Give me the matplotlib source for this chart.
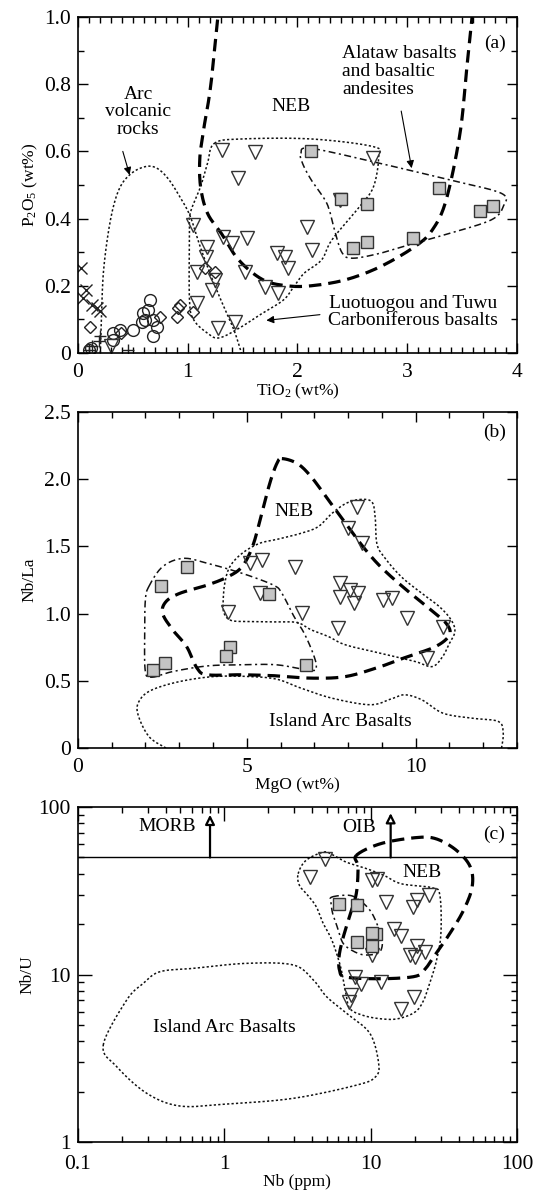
import numpy as np
import matplotlib
matplotlib.use("Agg")
import matplotlib.pyplot as plt
from matplotlib.ticker import MultipleLocator, LogLocator, NullFormatter, FuncFormatter

plt.rcParams["font.family"] = ["Liberation Serif", "DejaVu Serif"]
plt.rcParams["mathtext.fontset"] = "custom"
plt.rcParams["mathtext.rm"] = "Liberation Serif"
plt.rcParams["mathtext.it"] = "Liberation Serif:italic"
plt.rcParams["lines.scale_dashes"] = False

# ---------------- (a) TiO2 vs P2O5 ----------------
a_tri_x = [1.31, 1.614, 1.462, 1.052, 1.174, 1.168, 1.325, 1.402, 1.538, 1.083, 1.25, 1.219,
           1.083, 1.28, 1.432, 1.523, 1.705, 1.826, 1.811, 1.887, 1.917, 2.085, 2.13, 2.687, 2.39, 0.30]
a_tri_y = [0.604, 0.599, 0.52, 0.381, 0.316, 0.287, 0.346, 0.326, 0.341, 0.242, 0.217, 0.188,
           0.148, 0.074, 0.093, 0.242, 0.197, 0.178, 0.297, 0.287, 0.252, 0.376, 0.307, 0.581, 0.455, 0.02]
a_sq_x = [2.126, 2.394, 2.636, 2.504, 2.636, 3.055, 3.291, 3.663, 3.78]
a_sq_y = [0.602, 0.457, 0.444, 0.312, 0.33, 0.342, 0.49, 0.423, 0.438]
a_circ_x = [0.323, 0.384, 0.505, 0.582, 0.597, 0.642, 0.658, 0.612, 0.688, 0.719, 0.688, 0.323, 0.10, 0.12]
a_circ_y = [0.059, 0.068, 0.068, 0.093, 0.118, 0.128, 0.158, 0.098, 0.098, 0.078, 0.049, 0.039, 0.009, 0.015]
a_dia_x = [0.111, 0.90, 0.931, 0.915, 1.052, 1.158, 1.25, 0.749, 0.39]
a_dia_y = [0.078, 0.108, 0.143, 0.133, 0.123, 0.252, 0.242, 0.108, 0.06]
a_cross_x = [0.031, 0.079, 0.047, 0.126, 0.173, 0.205]
a_cross_y = [0.252, 0.188, 0.163, 0.144, 0.134, 0.124]
a_plus_x = [0.205, 0.189, 0.125, 0.10, 0.457]
a_plus_y = [0.05, 0.035, 0.02, 0.01, 0.01]

a_neb = [(1.291, 1.05), (1.213, 0.802), (1.15, 0.673), (1.112, 0.584), (1.118, 0.495), (1.181, 0.416),
         (1.307, 0.356), (1.465, 0.277), (1.685, 0.218), (1.906, 0.2), (2.126, 0.2), (2.441, 0.218),
         (2.756, 0.257), (3.071, 0.317), (3.228, 0.366), (3.354, 0.455), (3.48, 0.653), (3.543, 0.851),
         (3.606, 1.05)]
a_arc = [(0.205, 0.0), (0.215, 0.1), (0.236, 0.25), (0.30, 0.40), (0.38, 0.49), (0.49, 0.535),
         (0.62, 0.555), (0.72, 0.55), (0.82, 0.52), (0.92, 0.47), (1.02, 0.41), (1.10, 0.33),
         (1.20, 0.24), (1.30, 0.16), (1.42, 0.07), (1.49, 0.0)]
a_luo = [(1.244, 0.624), (1.496, 0.637), (2.126, 0.637), (2.693, 0.614), (2.74, 0.584), (2.693, 0.495),
         (2.567, 0.436), (2.315, 0.337), (2.22, 0.277), (2.063, 0.238), (1.969, 0.198), (1.874, 0.158),
         (1.685, 0.119), (1.496, 0.079), (1.291, 0.045), (1.181, 0.059), (1.055, 0.099), (1.017, 0.158),
         (1.017, 0.356), (1.024, 0.416), (1.118, 0.495), (1.181, 0.564)]
a_ala = [(2.031, 0.594), (2.126, 0.609), (2.756, 0.564), (3.386, 0.515), (3.858, 0.475), (3.874, 0.436),
         (3.764, 0.396), (3.386, 0.356), (3.071, 0.327), (2.756, 0.297), (2.504, 0.282), (2.409, 0.297),
         (2.346, 0.356), (2.299, 0.416), (2.252, 0.455), (2.126, 0.515), (2.047, 0.564)]

# ---------------- (b) MgO vs Nb/La ----------------
b_tri_x = [7.76, 8.06, 8.3, 7.76, 8.16, 9.04, 9.29, 9.74, 7.71, 10.82, 10.33, 6.63, 4.46,
           5.1, 5.44, 6.43, 5.39, 8.26, 8.01, 8.4]
b_tri_y = [1.225, 1.176, 1.151, 1.126, 1.077, 1.101, 1.114, 0.965, 0.891, 0.903, 0.667, 1.002, 1.014,
           1.374, 1.399, 1.349, 1.151, 1.795, 1.635, 1.523]
b_sq_x = [3.22, 2.46, 5.67, 4.51, 4.39, 2.24, 2.59, 6.76]
b_sq_y = [1.349, 1.205, 1.144, 0.749, 0.687, 0.579, 0.63, 0.618]

b_neb = [(6.04, 2.153), (6.5, 2.116), (6.91, 2.017), (7.42, 1.844), (7.93, 1.671), (8.44, 1.498),
         (8.96, 1.349), (9.67, 1.188), (10.39, 1.04), (10.9, 0.928), (11.0, 0.842), (10.59, 0.755),
         (9.77, 0.681), (8.96, 0.606), (7.93, 0.532), (6.91, 0.52), (5.89, 0.537), (4.86, 0.545),
         (3.84, 0.545), (3.53, 0.594), (3.22, 0.755), (2.81, 0.879), (2.51, 1.002), (2.61, 1.089),
         (3.02, 1.151), (3.84, 1.213), (4.45, 1.275), (4.86, 1.349), (5.17, 1.498), (5.42, 1.72),
         (5.68, 1.968), (5.89, 2.116)]
b_luo = [(8.34, 1.849), (8.7, 1.832), (8.8, 1.72), (8.85, 1.522), (9.06, 1.423), (9.57, 1.275),
         (10.18, 1.151), (10.7, 1.052), (11.05, 0.953), (11.16, 0.866), (11.0, 0.78), (10.8, 0.681),
         (10.49, 0.606), (9.98, 0.644), (8.96, 0.705), (7.93, 0.767), (7.42, 0.829), (6.91, 0.879),
         (6.5, 0.933), (5.89, 0.938), (4.86, 0.941), (4.5, 0.953), (4.33, 1.002), (4.3, 1.077),
         (4.35, 1.225), (4.5, 1.349), (4.86, 1.448), (5.37, 1.522), (5.89, 1.552), (6.6, 1.597),
         (7.11, 1.646), (7.52, 1.745), (7.93, 1.819)]
b_ala = [(2.1, 1.2), (2.51, 1.349), (3.12, 1.411), (3.84, 1.374), (4.86, 1.3), (5.78, 1.213),
         (6.04, 1.151), (6.4, 0.978), (6.7, 0.854), (6.96, 0.705), (7.06, 0.606), (6.91, 0.577),
         (5.89, 0.619), (4.86, 0.619), (3.84, 0.611), (2.81, 0.569), (2.2, 0.527), (2.0, 0.569),
         (1.98, 0.854), (2.0, 1.101)]
b_iab = [(2.61, 0.0), (2.1, 0.087), (1.77, 0.26), (1.84, 0.359), (2.2, 0.433), (3.02, 0.495),
         (4.04, 0.532), (5.07, 0.532), (5.89, 0.512), (6.6, 0.446), (7.52, 0.371), (8.65, 0.322),
         (9.26, 0.364), (9.67, 0.396), (10.18, 0.359), (10.8, 0.26), (11.62, 0.223), (12.44, 0.198),
         (12.59, 0.111), (12.54, 0.0)]

# ---------------- (c) Nb vs Nb/U (outlines in log10 units) ----------------
c_tri_x = [4.89, 3.83, 10.2, 11.1, 12.7, 19.6, 20.7, 25.0, 14.5, 16.2, 20.7, 18.5, 20.1, 23.4,
           10.2, 7.76, 8.65, 11.7, 7.35, 7.07, 19.9, 16.2]
c_tri_y = [49.2, 38.2, 36.5, 37.3, 27.1, 25.3, 27.7, 29.7, 18.8, 17.1, 14.9, 13.0, 12.7, 13.6,
           13.0, 9.66, 8.81, 9.02, 7.52, 6.86, 7.35, 6.25]
c_sq_x = [6.1, 8.04, 10.9, 10.2, 8.04, 10.2]
c_sq_y = [26.2, 26.0, 17.4, 17.6, 15.6, 14.9]

c_neb = [(0.902, 1.711), (1.067, 1.781), (1.303, 1.817), (1.445, 1.811), (1.587, 1.741), (1.681, 1.642),
         (1.693, 1.522), (1.634, 1.383), (1.54, 1.244), (1.445, 1.124), (1.374, 1.035), (1.303, 0.989),
         (1.067, 0.975), (0.831, 0.985), (0.788, 1.025), (0.784, 1.104), (0.807, 1.204), (0.854, 1.343),
         (0.902, 1.483), (0.914, 1.642)]
c_luo = [(0.505, 1.602), (0.559, 1.682), (0.677, 1.731), (0.736, 1.717), (0.831, 1.672), (0.973, 1.632),
         (1.091, 1.592), (1.209, 1.542), (1.421, 1.518), (1.473, 1.473), (1.48, 1.244), (1.45, 1.085),
         (1.41, 0.965), (1.362, 0.846), (1.303, 0.776), (1.185, 0.736), (1.067, 0.736), (0.949, 0.756),
         (0.859, 0.796), (0.831, 0.886), (0.795, 1.045), (0.736, 1.204), (0.677, 1.303), (0.63, 1.403),
         (0.571, 1.473), (0.514, 1.532)]
c_ala = [(0.736, 1.463), (0.854, 1.473), (0.925, 1.443), (0.996, 1.383), (1.043, 1.303), (1.079, 1.204),
         (1.067, 1.14), (1.02, 1.12), (0.937, 1.12), (0.854, 1.154), (0.807, 1.194), (0.772, 1.284),
         (0.741, 1.363), (0.729, 1.433)]
c_iab = [(-0.826, 0.579), (-0.666, 0.848), (-0.553, 0.947), (-0.439, 1.017), (-0.211, 1.037),
         (0.154, 1.067), (0.472, 1.057), (0.609, 0.967), (0.70, 0.867), (0.837, 0.768), (0.996, 0.647),
         (1.055, 0.468), (1.032, 0.388), (0.905, 0.34), (0.472, 0.261), (0.017, 0.227), (-0.302, 0.215),
         (-0.529, 0.291), (-0.734, 0.45)]
c_limit = 50
morb_x, oib_x = 0.8, 13.7


def smooth(pts, closed=True, n=14):
    # Catmull-Rom through the outline vertices
    p = np.asarray(pts, float)
    p = np.vstack([p[-1], p, p[0], p[1]]) if closed else np.vstack([p[0], p, p[-1]])
    t = np.linspace(0, 1, n, endpoint=False)[:, None]
    out = []
    for i in range(1, len(p) - 2):
        p0, p1, p2, p3 = p[i - 1], p[i], p[i + 1], p[i + 2]
        out.append(0.5 * (2 * p1 + (-p0 + p2) * t + (2 * p0 - 5 * p1 + 4 * p2 - p3) * t ** 2
                          + (-p0 + 3 * p1 - 3 * p2 + p3) * t ** 3))
    out.append(p[-2][None])
    return np.vstack(out)


NEB_STYLE = dict(color="k", lw=2.3, dashes=(9, 5))
DOT_STYLE = dict(color="#111111", lw=1.1, dashes=(1.6, 1.6))
DASHDOT_STYLE = dict(color="#111111", lw=1.1, dashes=(5, 2.5, 1.5, 2.5))
TRI = dict(ls="none", marker="v", ms=9.5, mfc="none", mec="#333333", mew=1.0)
SQ = dict(ls="none", marker="s", ms=8.5, mfc="#c4c4c4", mec="#333333", mew=1.0)


def outline(ax, pts, style, closed=True, log=False):
    s = smooth(pts, closed)
    if log:
        s = 10 ** s
    ax.plot(s[:, 0], s[:, 1], **style)


def frame(ax):
    for sp in ax.spines.values():
        sp.set_linewidth(1.2)
    ax.tick_params(which="both", direction="in", top=True, right=True, labelsize=15.5, width=1.0)
    ax.tick_params(which="major", length=7)
    ax.tick_params(which="minor", length=4)
    ax.tick_params(axis="x", which="major", pad=7)
    ax.tick_params(axis="y", which="major", pad=5)


fig = plt.figure(figsize=(5.42, 11.9), dpi=100)
L, W = 0.1435, 0.8105
axa = fig.add_axes([L, 0.7034, W, 0.2823])
axb = fig.add_axes([L, 0.3714, W, 0.2824])
axc = fig.add_axes([L, 0.0403, W, 0.2815])

tk = dict(fontsize=14, ha="center", va="center", linespacing=1.05)

# ---- panel (a)
outline(axa, a_neb, NEB_STYLE, closed=False)
outline(axa, a_arc, DOT_STYLE, closed=False)
outline(axa, a_luo, DOT_STYLE)
outline(axa, a_ala, DASHDOT_STYLE)
axa.plot(a_cross_x, a_cross_y, ls="none", marker="x", ms=8, mec="#222222", mew=1.0)
axa.plot(a_plus_x, a_plus_y, ls="none", marker="+", ms=9, mec="#222222", mew=1.0)
axa.plot(a_circ_x, a_circ_y, ls="none", marker="o", ms=8.5, mfc="none", mec="#222222", mew=1.0)
axa.plot(a_dia_x, a_dia_y, ls="none", marker="D", ms=6, mfc="none", mec="#222222", mew=1.0)
axa.plot(a_tri_x, a_tri_y, **TRI)
axa.plot(a_sq_x, a_sq_y, **SQ)
axa.set_xlim(0, 4)
axa.set_ylim(0, 1)
axa.xaxis.set_major_locator(MultipleLocator(1))
axa.xaxis.set_minor_locator(MultipleLocator(0.1))
axa.yaxis.set_major_locator(MultipleLocator(0.2))
axa.yaxis.set_minor_locator(MultipleLocator(0.1))
axa.yaxis.set_major_formatter(FuncFormatter(lambda v, p: "0" if abs(v) < 1e-9 else f"{v:.1f}"))
frame(axa)
axa.set_xlabel("TiO$_2$ (wt%)", fontsize=12.5, labelpad=0)
axa.set_ylabel("P$_2$O$_5$ (wt%)", fontsize=12.5, labelpad=3)
axa.text(1.94, 0.733, "NEB", **tk)
axa.text(0.55, 0.718, "Arc\nvolcanic\nrocks", **tk)
axa.text(2.41, 0.838, "Alataw basalts\nand basaltic\nandesites", fontsize=14, ha="left", va="center",
         linespacing=1.05)
axa.text(3.055, 0.122, "Luotuogou and Tuwu\nCarboniferous basalts", **tk)
axa.text(3.795, 0.921, "(a)", **tk)
arr = dict(arrowstyle="-|>", color="k", lw=0.8, mutation_scale=11, shrinkA=0, shrinkB=0)
axa.annotate("", xy=(0.472, 0.53), xytext=(0.41, 0.6), arrowprops=arr)
axa.annotate("", xy=(3.04, 0.55), xytext=(2.945, 0.72), arrowprops=arr)
axa.annotate("", xy=(1.717, 0.097), xytext=(2.205, 0.114), arrowprops=arr)

# ---- panel (b)
outline(axb, b_iab, DOT_STYLE, closed=False)
outline(axb, b_ala, DASHDOT_STYLE)
outline(axb, b_luo, DOT_STYLE)
outline(axb, b_neb, NEB_STYLE)
axb.plot(b_tri_x, b_tri_y, **TRI)
axb.plot(b_sq_x, b_sq_y, **SQ)
axb.set_xlim(0, 13)
axb.set_ylim(0, 2.5)
axb.xaxis.set_major_locator(MultipleLocator(5))
axb.xaxis.set_minor_locator(MultipleLocator(1))
axb.yaxis.set_major_locator(MultipleLocator(0.5))
axb.yaxis.set_major_formatter(FuncFormatter(lambda v, p: "0" if abs(v) < 1e-9 else f"{v:.1f}"))
frame(axb)
axb.set_xlabel("MgO (wt%)", fontsize=12.5, labelpad=0)
axb.set_ylabel("Nb/La", fontsize=12.5, labelpad=5)
axb.text(6.4, 1.757, "NEB", **tk)
axb.text(7.78, 0.2, "Island Arc Basalts", **tk)
axb.text(12.33, 2.35, "(b)", **tk)

# ---- panel (c)
axc.set_xscale("log")
axc.set_yscale("log")
outline(axc, c_iab, DOT_STYLE, log=True)
outline(axc, c_luo, DOT_STYLE, log=True)
outline(axc, c_ala, DASHDOT_STYLE, log=True)
outline(axc, c_neb, NEB_STYLE, log=True)
axc.axhline(c_limit, color="k", lw=1.0)
up = dict(arrowstyle="-|>", color="k", fc="white", lw=1.6, mutation_scale=14, shrinkA=0, shrinkB=0)
axc.annotate("", xy=(morb_x, 90), xytext=(morb_x, c_limit), arrowprops=up)
axc.annotate("", xy=(oib_x, 92), xytext=(oib_x, c_limit), arrowprops=up)
axc.plot(c_tri_x, c_tri_y, **TRI)
axc.plot(c_sq_x, c_sq_y, **SQ)
axc.set_xlim(0.1, 100)
axc.set_ylim(1, 100)
axc.xaxis.set_major_formatter(FuncFormatter(lambda v, p: f"{v:g}"))
axc.yaxis.set_major_formatter(FuncFormatter(lambda v, p: f"{v:g}"))
axc.xaxis.set_minor_formatter(NullFormatter())
axc.yaxis.set_minor_formatter(NullFormatter())
axc.xaxis.set_minor_locator(LogLocator(base=10, subs=np.arange(2, 10)))
axc.yaxis.set_minor_locator(LogLocator(base=10, subs=np.arange(2, 10)))
frame(axc)
axc.tick_params(which="major", length=10)
axc.tick_params(axis="x", which="major", pad=9)
axc.set_xlabel("Nb (ppm)", fontsize=12.5, labelpad=0)
axc.set_ylabel("Nb/U", fontsize=12.5, labelpad=2)
axc.text(0.41, 77, "MORB", **tk)
axc.text(8.4, 76, "OIB", **tk)
axc.text(22.4, 40.9, "NEB", **tk)
axc.text(1.0, 4.86, "Island Arc Basalts", **tk)
axc.text(69.5, 69, "(c)", **tk)

fig.savefig("out.png", dpi=100)
